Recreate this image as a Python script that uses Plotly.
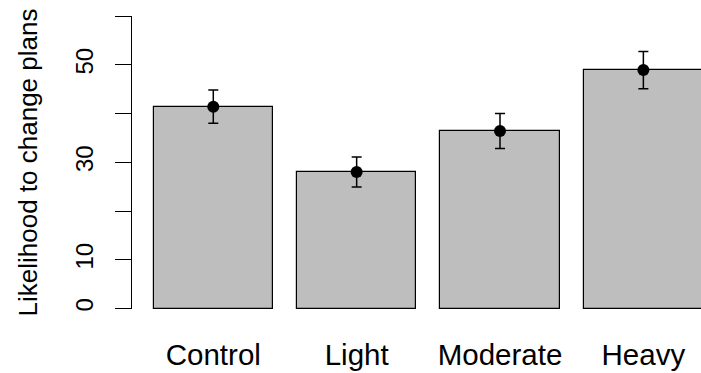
import plotly.graph_objects as go

categories = ["Control", "Light", "Moderate", "Heavy"]
means = [41.4, 28.0, 36.4, 48.9]
errors = [3.4, 3.1, 3.6, 3.8]
y_tick_vals = [0, 10, 20, 30, 40, 50, 60]
y_tick_text = ["0", "10", "", "30", "", "50", ""]
y_title = "Likelihood to change plans"

FONT = "Liberation Sans, Arial, Helvetica, sans-serif"

fig = go.Figure()
fig.add_trace(go.Bar(
    x=categories, y=means, width=0.8333,
    marker=dict(color="#BEBEBE", line=dict(color="black", width=1.2)),
    showlegend=False, hoverinfo="skip",
))
fig.add_trace(go.Scatter(
    x=categories, y=means, mode="markers",
    marker=dict(color="black", size=12),
    error_y=dict(type="data", array=errors, visible=True,
                 color="black", thickness=1.5, width=5),
    showlegend=False, cliponaxis=False,
))

fig.update_layout(
    width=701, height=373,
    margin=dict(l=132, r=0, t=16, b=64),
    paper_bgcolor="white", plot_bgcolor="white",
    font=dict(family=FONT, color="black"),
    bargap=0,
)
fig.update_xaxes(
    type="category", range=[-0.567, 3.402],
    showline=False, showgrid=False, zeroline=False, ticks="",
    tickfont=dict(size=29.5, color="black"),
    ticklabelstandoff=25,
)
fig.update_yaxes(
    range=[-0.1, 60], showgrid=False, zeroline=False,
    showline=True, linecolor="black", linewidth=1.2,
    ticks="outside", ticklen=16, tickwidth=1.2, tickcolor="black",
    tickvals=y_tick_vals, ticktext=y_tick_text,
    tickangle=-90, tickfont=dict(size=24, color="black"),
    ticklabelstandoff=12,
    title=dict(text=y_title, font=dict(size=26, color="black"), standoff=26),
)

fig.write_html("out.html")
